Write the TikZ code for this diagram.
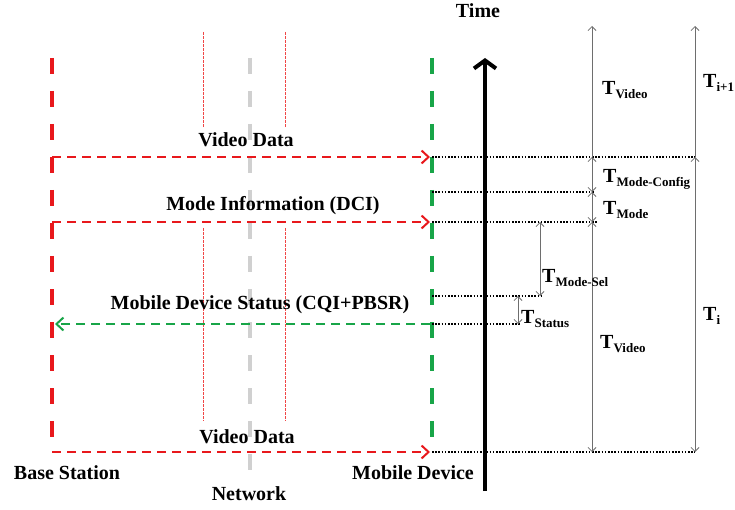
\documentclass[tikz,border=0pt]{standalone}
\usepackage{fontspec}
\setmainfont{Liberation Serif}
\usetikzlibrary{arrows.meta}
\definecolor{bsred}{RGB}{232,24,28}
\definecolor{mdgreen}{RGB}{24,165,72}
\definecolor{netgray}{RGB}{208,208,208}
\definecolor{spangray}{RGB}{110,110,110}
\definecolor{guidered}{RGB}{240,70,70}
% timing label: large T with a lowered, smaller index
\newcommand\Tspan[1]{T\raisebox{-4pt}{\fontsize{13}{14}\selectfont #1}}

\begin{document}
\begin{tikzpicture}[x=1pt,y=-1pt,
  lbl/.style={font=\fontsize{20}{22}\selectfont\bfseries, inner sep=0pt},
  tlbl/.style={font=\fontsize{20}{22}\selectfont\bfseries, inner sep=0pt, anchor=base west},
  lifeline/.style={line width=3.6pt, dash pattern=on 16pt off 17pt},
  guide/.style={guidered, line width=1pt, dash pattern=on 3pt off 1pt},
  msg/.style={line width=2pt, dash pattern=on 9pt off 6pt,
    -{Straight Barb[length=7pt,width=13pt]}},
  levelline/.style={line width=1.6pt, dash pattern=on 1.6pt off 1.6pt},
  interval/.style={spangray, line width=0.8pt,
    {Straight Barb[length=4pt,width=8pt]}-{Straight Barb[length=4pt,width=8pt]}},
  intervalup/.style={spangray, line width=0.8pt, -{Straight Barb[length=4pt,width=8pt]}},
]
\useasboundingbox (0,0) rectangle (735,510);

% ---- entities ----
\coordinate (bs-top)  at (52,58);   \coordinate (bs-bot)  at (52,452);
\coordinate (net-top) at (250,58);  \coordinate (net-bot) at (250,482);
\coordinate (md-top)  at (432,58);  \coordinate (md-bot)  at (432,446);

% network boundaries
\coordinate (ga-t1) at (203,32);  \coordinate (ga-b1) at (203,128);
\coordinate (ga-t2) at (203,228); \coordinate (ga-b2) at (203,421);
\coordinate (gb-t1) at (285,32);  \coordinate (gb-b1) at (285,128);
\coordinate (gb-t2) at (285,228); \coordinate (gb-b2) at (285,421);
\draw[guide] (ga-t1) -- (ga-b1) (ga-t2) -- (ga-b2);
\draw[guide] (gb-t1) -- (gb-b1) (gb-t2) -- (gb-b2);

\draw[lifeline, netgray] (net-top) -- (net-bot);
\draw[lifeline, bsred]   (bs-top) -- (bs-bot);
\draw[lifeline, mdgreen] (md-top) -- (md-bot);

% ---- messages ----
\coordinate (bs-v1) at (52,157);  \coordinate (md-v1) at (430,157);
\coordinate (bs-m)  at (52,222);  \coordinate (md-m)  at (430,222);
\coordinate (bs-s)  at (55,324);  \coordinate (md-s)  at (430,324);
\coordinate (bs-v2) at (52,452);  \coordinate (md-v2) at (430,452);

\draw[msg, bsred]   (bs-v1) -- (md-v1);
\draw[msg, bsred]   (bs-m)  -- (md-m);
\draw[msg, mdgreen] (md-s)  -- (bs-s);
\draw[msg, bsred]   (bs-v2) -- (md-v2);

\node[lbl] (lab-v1) at (246,140) {Video Data};
\node[lbl] (lab-m)  at (273,206) {Mode Information (DCI)};
\node[lbl] (lab-s)  at (260,305) {Mobile Device Status (CQI+PBSR)};
\node[lbl] (lab-v2) at (247,437) {Video Data};
\node[lbl] (lab-bs)  at (67,473)  {Base Station};
\node[lbl] (lab-net) at (249,494) {Network};
\node[lbl] (lab-md)  at (413,473) {Mobile Device};

% ---- time levels ----
\coordinate (l1a) at (432,157); \coordinate (l1b) at (695,157);
\coordinate (l2a) at (432,192); \coordinate (l2b) at (594,192);
\coordinate (l3a) at (432,222); \coordinate (l3b) at (597,222);
\coordinate (l4a) at (432,296); \coordinate (l4b) at (542,296);
\coordinate (l5a) at (432,324); \coordinate (l5b) at (520,324);
\coordinate (l6a) at (432,452); \coordinate (l6b) at (695,452);
\foreach \a/\b in {l1a/l1b,l2a/l2b,l3a/l3b,l4a/l4b,l5a/l5b,l6a/l6b}
  \draw[levelline] (\a) -- (\b);

% time axis
\coordinate (time-bot) at (485,491);
\coordinate (time-top) at (485,58);
\draw[line width=4pt, -{Straight Barb[length=8pt,width=22pt]}] (time-bot) -- (time-top);
\node[lbl] (lab-time) at (478,11) {Time};

% ---- intervals ----
\coordinate (a0) at (592,26);  \coordinate (a1) at (592,157);
\coordinate (a2) at (592,192); \coordinate (a3) at (592,222);
\coordinate (a4) at (592,452);
\coordinate (b0) at (695,26);  \coordinate (b1) at (695,157);
\coordinate (b4) at (695,452);
\coordinate (c1) at (540,222); \coordinate (c2) at (540,296);
\coordinate (d1) at (518,296); \coordinate (d2) at (518,324);

\draw[intervalup] (a1) -- (a0);
\draw[interval] (a1) -- (a2);
\draw[interval] (a2) -- (a3);
\draw[interval] (a3) -- (a4);
\draw[intervalup] (b1) -- (b0);
\draw[interval] (b1) -- (b4);
\draw[interval] (c1) -- (c2);
\draw[interval] (d1) -- (d2);

\node[tlbl] (t-video1) at (602,95)  {\Tspan{Video}};
\node[tlbl] (t-next)   at (703,88)  {\Tspan{i+1}};
\node[tlbl] (t-conf)   at (603,183) {\Tspan{Mode-Config}};
\node[tlbl] (t-mode)   at (603,215) {\Tspan{Mode}};
\node[tlbl] (t-sel)    at (542,282) {\Tspan{Mode-Sel}};
\node[tlbl] (t-status) at (521,323) {\Tspan{Status}};
\node[tlbl] (t-video2) at (600,348) {\Tspan{Video}};
\node[tlbl] (t-cur)    at (703,320) {\Tspan{i}};
\end{tikzpicture}
\end{document}
